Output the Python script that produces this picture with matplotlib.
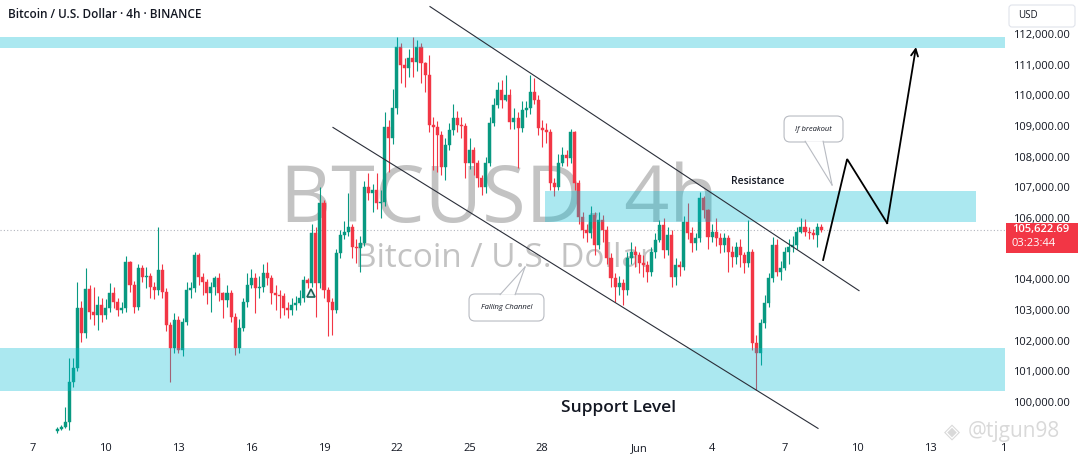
import numpy as np
import matplotlib
matplotlib.use("Agg")
import matplotlib.pyplot as plt
from matplotlib.patches import FancyBboxPatch, Rectangle, Polygon
from matplotlib.transforms import IdentityTransform

plt.rcParams["font.family"] = ["Open Sans", "DejaVu Sans"]

# BTCUSD 4h bars, first bar 8 May 00:00, one bar every 4 hours (open = previous close)
first_open = 99050
closes = [
    99120, 99185, 99348, 100652, 101108, 103064, 102249, 103684, 102934, 102836,
    103162, 102836, 103064, 103553, 103260, 102999, 103064, 104564, 103815, 103097,
    104368, 104075, 104108, 103749, 103651, 104303, 103586, 102510, 101760, 102673,
    101695, 102608, 103651, 103717, 104792, 104075, 103912, 103553, 103749, 104042,
    103553, 103325, 103553, 102771, 101760, 102412, 103260, 103815, 104042,
    103717, 103749, 104205, 104042, 103553, 103488, 103450, 103064, 102999, 103162,
    103227, 103390, 103977, 103879, 105509, 103879, 106487, 103651, 103260, 102999,
    104857, 105444, 105542, 105705, 105053, 105020, 105183, 107009, 106813, 106911,
    106487, 106520, 108965, 108606, 109584, 111573, 110986, 110888, 111214, 111084,
    111573, 111051, 110660, 109030, 108965, 108704, 107661, 108378, 108867, 109258,
    109030, 108997, 107791, 108215, 107791, 107302, 107009, 107791, 109095, 109682,
    110171, 109845, 110008, 109128, 109258, 108931, 109518, 109584, 110106, 109845,
    108931, 108867, 108800, 107139, 107009, 107791, 108052, 107954, 108802,
    107139, 106031, 105607, 105509, 106096, 105127, 105933, 105607, 104694, 104042,
    103749, 103879, 103651, 104694, 104890, 104792, 104531, 104466, 104238, 104890,
    105281, 105770, 104955, 105444, 104075, 104466, 104401, 105868, 105509, 105183,
    105346, 106651, 106259, 105379, 105542, 105346, 105127, 105346, 104890, 104727,
    105053, 104792, 104531, 104890, 101923, 101597, 102575, 103227, 104042, 105127,
    104238, 104368, 104890, 105053, 105127, 105542, 105705, 105542, 105509, 105444,
    105705, 105622.69,
]
highs = [
    99200, 99260, 99840, 101430, 101430, 103910, 103300, 104370, 103800, 103750,
    103450, 103400, 103350, 103880, 103750, 103400, 103250, 104750, 104600, 103950,
    104500, 104470, 104400, 104200, 103900, 105700, 104500, 103700, 102600, 102900,
    102800, 102750, 103900, 103910, 104900, 104850, 104200, 104000, 103900, 104100,
    104200, 103600, 103800, 103650, 102900, 102700, 103400, 104200, 104350,
    104200, 104100, 104500, 104560, 104150, 103800, 103650, 103550, 103250, 103400,
    103450, 103650, 104100, 104050, 105800, 105700, 107000, 106600, 103750, 103400,
    105000, 105600, 105900, 106810, 105800, 105300, 105400, 107200, 107460, 107100,
    107460, 106900, 109450, 109200, 110200, 111900, 111700, 111200, 111500, 111900,
    111800, 111700, 111100, 111310, 109300, 109150, 108850, 108600, 109100, 109700,
    109500, 109300, 109100, 108600, 108300, 107900, 107400, 108000, 109300, 109900,
    110430, 110500, 110650, 110200, 109600, 109450, 109800, 109800, 110660, 110550,
    110000, 109200, 109100, 108900, 107300, 108100, 108300, 108200, 108900,
    108850, 107250, 106200, 105800, 106400, 106200, 106200, 106100, 105750, 104850,
    104200, 104100, 104000, 104900, 105200, 105100, 104900, 104800, 104600, 105050,
    105500, 105930, 106000, 105700, 105600, 104700, 104600, 106050, 106500, 105700,
    105500, 106850, 106700, 106300, 105800, 106000, 105500, 105500, 105450, 105100,
    105200, 105300, 104900, 105930, 105000, 102200, 102700, 103500, 104200, 105380,
    105300, 104600, 105050, 105300, 105400, 105700, 106000, 105950, 105700, 105650,
    105850, 105800,
]
lows = [
    98990, 99080, 99150, 99090, 100500, 101000, 101950, 102100, 102700, 102500,
    102350, 102600, 102700, 102950, 103050, 102800, 102900, 102950, 103600, 102900,
    103000, 103900, 103700, 103400, 103350, 103500, 103400, 102300, 100650, 101600,
    101600, 101500, 102500, 103400, 103600, 103800, 103500, 103200, 102930, 103500,
    103300, 102740, 103100, 102600, 101530, 101600, 102300, 103100, 103700,
    102900, 103400, 103600, 103800, 103200, 103000, 102740, 102850, 102750, 102850,
    103000, 103150, 103250, 103700, 103750, 102770, 103700, 103400, 102150, 102180,
    102900, 104700, 105300, 105400, 104700, 104530, 104240, 105100, 106600, 106190,
    106300, 106000, 106400, 107500, 108400, 109400, 110400, 110270, 110600, 110600,
    110800, 110400, 110100, 108800, 107560, 107500, 107400, 107240, 108200, 108700,
    108800, 108600, 107300, 107600, 107400, 107000, 106750, 106800, 107700, 109000,
    109600, 109600, 109800, 108900, 108900, 107630, 108800, 109300, 109400, 109700,
    108700, 108300, 108440, 106900, 106700, 106900, 107700, 107700, 107800,
    106900, 105800, 105350, 105200, 105350, 104800, 105000, 105200, 104500, 103750,
    103260, 103500, 103150, 103500, 104500, 104400, 104200, 104080, 103900, 104100,
    104700, 105200, 104700, 104800, 103750, 103800, 104100, 104300, 105300, 104900,
    104950, 105200, 106000, 105000, 105200, 105100, 104850, 104900, 104240, 104400,
    104500, 104400, 104200, 104400, 101700, 100390, 101200, 102400, 103100, 103900,
    104100, 103980, 104300, 104500, 104900, 105000, 105500, 105400, 105300, 105300,
    105050, 105550,
]
opens = [first_open] + closes[:-1]
last_price = closes[-1]
countdown = "03:23:44"

# day-of-May positions for the x axis (June 1 = 32)
xtick_days = [7, 10, 13, 16, 19, 22, 25, 28, 32, 35, 38, 41, 44, 47]
xtick_labels = ["7", "10", "13", "16", "19", "22", "25", "28", "Jun", "4", "7", "10", "13", "1"]
# 105,000 sits under the last-price label, so it is not shown
ytick_prices = [100000, 101000, 102000, 103000, 104000, 106000, 107000, 108000,
                109000, 110000, 111000, 112000]

support_zone = (100360, 101770)
resistance_zone = (105880, 106890)
resistance_days = (28.1, 45.9)
top_zone = (111550, 111910)

channel_upper = ([23.37, 41.06], [112890, 103630])
channel_lower = ([19.37, 39.37], [108950, 99140])
path_days = [39.58, 40.57, 42.22, 43.41]
path_prices = [104630, 107920, 105830, 111570]
marker_day, marker_price = 18.46, 103550

UP, DOWN = "#089981", "#f23645"
ZONE = "#00bcd4"
W, H = 1080, 458

fig = plt.figure(figsize=(W / 100, H / 100), dpi=100)
fig.patch.set_facecolor("white")
ax = fig.add_axes([0, 23 / H, 1005 / W, 435 / H])
ax.set_xlim(5.64, 47.08)
ax.set_ylim(98924, 113105)
for s in ax.spines.values():
    s.set_visible(False)

days = 8 + np.arange(len(closes)) / 6
o, c, hi, lo = map(np.array, (opens, closes, highs, lows))
col = np.where(c >= o, UP, DOWN)

# watermark
ax.text(26.2, 105868, "BTCUSD, 4h", fontsize=57, color="#c3c3c3", ha="center",
        va="baseline", zorder=0)
ax.text(20.28, 104401, "Bitcoin / U.S. Dollar", fontsize=24, color="#c3c3c3",
        ha="left", va="baseline", zorder=0)

# candles
ax.vlines(days, lo, hi, colors=col, linewidth=0.8, zorder=2)
ax.bar(days, np.abs(c - o), bottom=np.minimum(o, c), width=0.125, color=col,
       edgecolor=col, linewidth=0.3, zorder=2)
ax.plot(marker_day, marker_price, marker="^", ms=5.5, mfc="#dff1ee", mec="#1d5f56",
        mew=1.2, zorder=3)

# zones
ax.axhspan(*support_zone, color=ZONE, alpha=0.33, lw=0, zorder=3)
ax.axhspan(*top_zone, color=ZONE, alpha=0.33, lw=0, zorder=3)
ax.fill_between(resistance_days, *resistance_zone, color=ZONE, alpha=0.33, lw=0, zorder=3)

# last price line
ax.axhline(last_price, color="#b2b5be", lw=0.8, ls=(0, (1, 2)), zorder=1)

# channel + projection
ax.plot(*channel_upper, color="#2a2e39", lw=0.8, zorder=4)
ax.plot(*channel_lower, color="#2a2e39", lw=0.8, zorder=4)
ax.plot(path_days[:3], path_prices[:3], color="black", lw=1.3, zorder=4,
        solid_joinstyle="miter")
ax.annotate("", xy=(path_days[3], path_prices[3]), xytext=(path_days[2], path_prices[2]),
            arrowprops=dict(arrowstyle="->,head_length=0.5,head_width=0.25", color="black",
                            lw=1.3, shrinkA=0, shrinkB=0), zorder=4)

ax.text(36.9, 107107, "Resistance", fontsize=7.5, fontweight="semibold", color="#131722",
        ha="center", va="baseline", zorder=5)
ax.text(31.16, 99658, "Support Level", fontsize=12.5, fontweight="semibold",
        color="#131722", ha="center", va="baseline", zorder=5)

# axes ticks
ax.set_xticks(xtick_days)
ax.set_xticklabels(xtick_labels)
ax.set_yticks(ytick_prices)
ax.set_yticklabels([f"{p:,.2f}" for p in ytick_prices])
ax.yaxis.tick_right()
ax.tick_params(axis="both", length=0, labelsize=8, colors="#131722")
ax.tick_params(axis="x", pad=6)
ax.tick_params(axis="y", pad=6)


def disp(d, p):
    return ax.transData.transform((d, p))


def callout(text, box, tail):
    (x0, y0), (x1, y1) = disp(*box[0]), disp(*box[1])
    l, r, b, t = min(x0, x1), max(x0, x1), min(y0, y1), max(y0, y1)
    ax.add_artist(FancyBboxPatch((l, b), r - l, t - b, boxstyle="round,pad=0,rounding_size=6",
                                 transform=IdentityTransform(), fc="white", ec="#b8bbc2",
                                 lw=0.8, zorder=6))
    pts = np.array([disp(*pt) for pt in tail])
    ax.add_artist(Polygon(pts, closed=True, transform=IdentityTransform(), fc="white",
                          ec="none", zorder=6.5))
    for k in (0, 1):
        ax.add_artist(plt.Line2D([pts[k, 0], pts[2, 0]], [pts[k, 1], pts[2, 1]],
                                 transform=IdentityTransform(), color="#b8bbc2",
                                 lw=0.8, zorder=6.6))
    ax.text((l + r) / 2, (b + t) / 2, text, transform=IdentityTransform(), fontsize=5.5,
            style="italic", color="#131722", ha="center", va="center", zorder=7)


callout("If breakout", ((37.97, 109323), (40.40, 108476)),
        [(38.84, 108500), (39.58, 108500), (39.95, 107074)])
callout("Falling Channel", ((24.98, 103521), (28.07, 102640)),
        [(26.26, 103500), (26.88, 103500), (27.29, 104401)])

# title
fig.text(8 / W, 1 - 15 / H, "Bitcoin / U.S. Dollar · 4h · BINANCE", fontsize=8.5,
         fontweight="semibold", color="#131722", ha="left", va="center")

# USD box
fig.add_artist(FancyBboxPatch((1009, H - 27), 66, 22, boxstyle="round,pad=0,rounding_size=3",
                              transform=IdentityTransform(), fc="white", ec="#e0e3eb", lw=0.8))
fig.text(1018 / W, 1 - 16 / H, "USD", fontsize=7, color="#131722", ha="left", va="center")

# last price label
py = disp(40, last_price)[1]
fig.add_artist(Rectangle((1006, py - 23), 72, 30, transform=IdentityTransform(),
                         fc="#f23645", ec="none"))
fig.text(1012 / W, py / H, f"{last_price:,.2f}", fontsize=8, fontweight="semibold",
         color="white", ha="left", va="center")
fig.text(1012 / W, (py - 14) / H, countdown, fontsize=8, color="white", ha="left", va="center")

# author watermark
fig.text(944 / W, 1 - 432 / H, "◈", fontsize=15, color="#d9d9d9", ha="left", va="center",
         family=["DejaVu Sans"])
fig.text(968 / W, 1 - 432 / H, "@tjgun98", fontsize=15, color="#d9d9d9", ha="left",
         va="center")

fig.savefig("out.png", dpi=100, facecolor="white")
